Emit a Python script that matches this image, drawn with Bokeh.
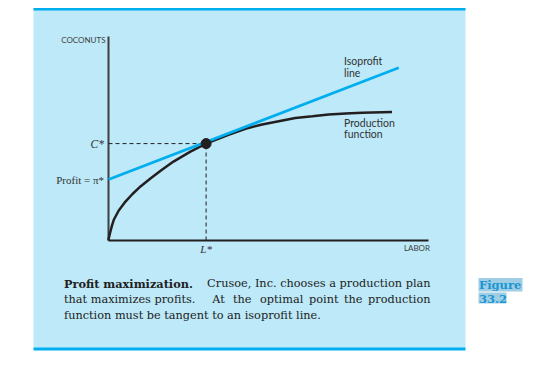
from bokeh.plotting import figure
from bokeh.models import Range1d
from bokeh.core.properties import value
from bokeh.embed import file_html
from bokeh.resources import INLINE

# ---------------- data ----------------
labor = [0.0, 0.01, 0.03, 0.06, 0.11, 0.17, 0.32, 0.53, 0.75, 1.0, 1.31, 1.66,
         2.03, 2.56, 3.05, 3.75, 4.28, 4.80, 5.32, 5.84, 6.37, 6.88, 7.41, 7.93, 8.86]
coconuts = [0.0, 0.12, 0.25, 0.44, 0.74, 1.03, 1.47, 1.91, 2.28, 2.65, 3.04, 3.46,
            3.87, 4.36, 4.75, 5.18, 5.48, 5.69, 5.85, 6.00, 6.09, 6.18, 6.23, 6.26, 6.30]
iso_labor = [0.0, 9.07]
iso_coconuts = [2.99, 8.47]
L_star = 3.05
C_star = 4.75
pi_star = 2.99
axis_max_x = 10.0
axis_max_y = 10.0
y_tick_values = [C_star, pi_star]
y_tick_labels = ["C*", "Profit = \u03c0*"]
x_tick_values = [L_star]
x_tick_labels = ["L*"]

# ---------------- layout helpers ----------------
W, H = 526, 376
PAGE_X0, PAGE_Y0 = 0, 0   # where the canvas lands on the page
OX, OY = 108.0, 240.0     # page pixel of the data origin
SX, SY = 32.0, 20.4       # pixels per data unit


def fx(px):
    return (px - OX) / SX


def fy(py):
    return (OY - py) / SY


p = figure(width=W, height=H,
           x_range=Range1d(fx(PAGE_X0), fx(PAGE_X0 + W)),
           y_range=Range1d(fy(PAGE_Y0 + H), fy(PAGE_Y0)),
           output_backend="svg", toolbar_location=None,
           x_axis_location=None, y_axis_location=None, min_border=0)
p.grid.visible = False
p.outline_line_color = None
p.background_fill_color = "white"
p.border_fill_color = "white"

PANEL = "#BDE9F8"
CYAN = "#00AEEF"
INK = "#231f20"
GREY = "#3f3f3f"
TXT = "#333333"

# panel
p.quad(left=fx(33), right=fx(465), top=fy(8), bottom=fy(348),
       fill_color=PANEL, line_color=None)
p.quad(left=fx(33), right=fx(465), top=fy(7.5), bottom=fy(10),
       fill_color=CYAN, line_color=None)
p.quad(left=fx(33), right=fx(465), top=fy(347), bottom=fy(350),
       fill_color=CYAN, line_color=None)

# axes
p.line([0, 0], [0, axis_max_y], line_width=2, line_color=GREY)
p.line([0, axis_max_x], [0, 0], line_width=1.8, line_color=INK)

# dashed guides
p.line([0, L_star], [C_star, C_star], line_dash="4 3", line_width=1, line_color=INK)
p.line([L_star, L_star], [0, C_star], line_dash="4 3", line_width=1, line_color=INK)

# curves
p.line(labor, coconuts, line_width=2.5, line_color=INK)
p.line(iso_labor, iso_coconuts, line_width=2.8, line_color=CYAN)
p.scatter([L_star], [C_star], size=10, fill_color=INK, line_color=INK)

# tick-like labels
p.text(x=[fx(103.5)], y=y_tick_values[:1], text=y_tick_labels[:1],
       text_font=value("Liberation Serif"), text_font_size="11.5px",
       text_font_style="italic",
       text_align="right", text_baseline="middle", text_color=TXT)
p.text(x=[fx(103.5)], y=y_tick_values[1:], text=y_tick_labels[1:],
       text_font=value("Liberation Serif"), text_font_size="11px",
       text_align="right", text_baseline="middle", text_color=TXT)
p.text(x=x_tick_values, y=[fy(248.3)], text=x_tick_labels,
       text_font=value("Liberation Serif"), text_font_size="11px",
       text_font_style="italic",
       text_align="center", text_baseline="middle", text_color=TXT)

# axis titles
p.text(x=[fx(105)], y=[fy(39.8)], text=["COCONUTS"],
       text_font=value("Lato"), text_font_size="8px",
       text_align="right", text_baseline="middle", text_color=GREY)
p.text(x=[fx(429.5)], y=[fy(247.9)], text=["LABOR"],
       text_font=value("Lato"), text_font_size="8px",
       text_align="right", text_baseline="middle", text_color=GREY)

# curve labels
p.text(x=[fx(343.5)] * 4, y=[fy(60.5), fy(72), fy(122.7), fy(133)],
       text=["Isoprofit", "line", "Production", "function"],
       text_font=value("Lato"), text_font_size="10.5px",
       text_align="left", text_baseline="middle", text_color=TXT)

# caption
CAP_FONT = value("DejaVu Serif")
CAP_SIZE = "11.3px"
CAP_Y = [fy(283.3), fy(299), fy(314.5)]
p.text(x=[fx(63.5)], y=CAP_Y[:1], text=["Profit maximization."],
       text_font=CAP_FONT, text_font_size=CAP_SIZE, text_font_style="bold",
       text_align="left", text_baseline="middle", text_color="#222222")
p.text(x=[fx(430)], y=CAP_Y[:1], text=["Crusoe, Inc. chooses a production plan"],
       text_font=CAP_FONT, text_font_size=CAP_SIZE,
       text_align="right", text_baseline="middle", text_color="#222222")
line2_words = ["that maximizes profits.", "At", "the", "optimal", "point", "the"]
line2_x = [63.5, 211.7, 232.5, 259.5, 308.5, 343.5]
p.text(x=[fx(v) for v in line2_x], y=CAP_Y[1:2] * len(line2_words),
       text=line2_words,
       text_font=CAP_FONT, text_font_size=CAP_SIZE,
       text_align="left", text_baseline="middle", text_color="#222222")
p.text(x=[fx(430)], y=CAP_Y[1:2], text=["production"],
       text_font=CAP_FONT, text_font_size=CAP_SIZE,
       text_align="right", text_baseline="middle", text_color="#222222")
p.text(x=[fx(63.5)], y=CAP_Y[2:], text=["function must be tangent to an isoprofit line."],
       text_font=CAP_FONT, text_font_size=CAP_SIZE,
       text_align="left", text_baseline="middle", text_color="#222222")

# figure number
p.quad(left=[fx(478), fx(478)], right=[fx(522), fx(506)],
       top=[fy(277.5), fy(292)], bottom=[fy(291), fy(303)],
       fill_color="#9FCDE3", line_color=None)
p.text(x=[fx(478.5)] * 2, y=[fy(284.3), fy(298.5)], text=["Figure", "33.2"],
       text_font=value("DejaVu Serif"), text_font_size="11.5px", text_font_style="bold",
       text_align="left", text_baseline="middle", text_color="#1A96D4")

open("out.html", "w").write(file_html(p, INLINE))
